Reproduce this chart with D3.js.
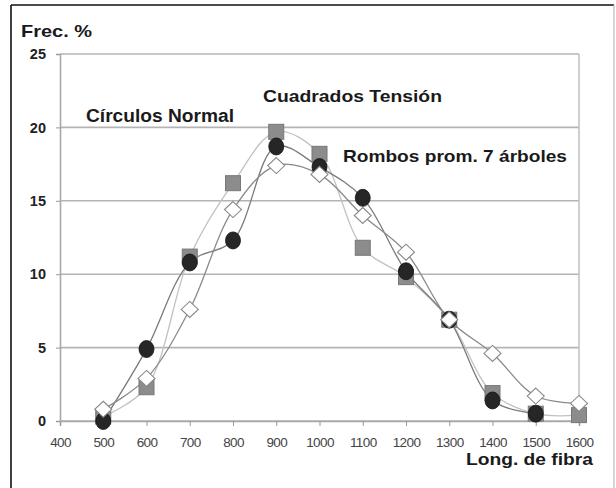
<!DOCTYPE html>
<html><head><meta charset="utf-8">
<script src="https://cdn.jsdelivr.net/npm/d3@7"></script>
<style>body{margin:0;background:#fff}svg{display:block;font-family:"Liberation Sans",Arial,sans-serif}</style>
</head><body><svg id="c" width="616" height="488"></svg>
<script>
const lengths = [500,600,700,800,900,1000,1100,1200,1300,1400,1500,1600];
const normal  = [0,4.9,10.8,12.3,18.7,17.3,15.2,10.2,6.9,1.4,0.5,null];
const tension = [0.3,2.3,11.2,16.2,19.7,18.2,11.8,9.8,6.9,1.9,0.5,0.4];
const prom7   = [0.8,2.9,7.6,14.4,17.4,16.8,14.0,11.5,6.9,4.6,1.7,1.2];
const xTicks = [400,500,600,700,800,900,1000,1100,1200,1300,1400,1500,1600];
const yTicks = [0,5,10,15,20,25];

const svg = d3.select("#c");
svg.append("rect").attr("width",616).attr("height",488).attr("fill","#fff");
// outer frame
svg.append("line").attr("x1",11).attr("x2",11).attr("y1",5).attr("y2",488).attr("stroke","#111").attr("stroke-width",1.6);
svg.append("line").attr("x1",11).attr("x2",614).attr("y1",5).attr("y2",5).attr("stroke","#111").attr("stroke-width",1.6);
svg.append("line").attr("x1",614).attr("x2",614).attr("y1",5).attr("y2",488).attr("stroke","#bbb").attr("stroke-width",1.2);

const x = d3.scaleLinear().domain([400,1600]).range([60,579]);
const y = d3.scaleLinear().domain([0,25]).range([421,54]);

// gridlines
svg.append("g").selectAll("line").data(yTicks).join("line")
  .attr("x1",60).attr("x2",579).attr("y1",d=>y(d)).attr("y2",d=>y(d))
  .attr("stroke","#b4b4b4").attr("stroke-width",1.6);
// plot right border
svg.append("line").attr("x1",579).attr("x2",579).attr("y1",y(25)).attr("y2",y(0)).attr("stroke","#c4c4c4").attr("stroke-width",1.6);

// x axis
const xa = svg.append("g").attr("transform",`translate(0,${y(0)})`)
  .call(d3.axisBottom(x).tickValues(xTicks).tickSize(5).tickPadding(11).tickFormat(d3.format("d")));
xa.select(".domain").attr("stroke","#a8a8a8").attr("stroke-width",1.6);
xa.selectAll(".tick line").attr("stroke","#999");
xa.selectAll("text").attr("font-size",13.5).attr("fill","#444").attr("font-family","Liberation Sans, Arial, sans-serif").attr("letter-spacing","-0.6");

// y axis
const ya = svg.append("g").attr("transform",`translate(60,0)`)
  .call(d3.axisLeft(y).tickValues(yTicks).tickSize(4).tickPadding(10));
ya.select(".domain").attr("stroke","#a8a8a8").attr("stroke-width",1.6);
ya.selectAll(".tick line").attr("stroke","#999");
ya.selectAll("text").attr("font-size",14.5).attr("font-weight","bold").attr("fill","#222").attr("font-family","Liberation Sans, Arial, sans-serif");

const curve = d3.curveCatmullRom.alpha(0.5);
function series(vals){ return lengths.map((l,i)=>({x:l,v:vals[i]})).filter(d=>d.v!==null); }
const line = d3.line().x(d=>x(d.x)).y(d=>y(d.v)).curve(curve);

svg.append("path").datum(series(tension)).attr("d",line).attr("fill","none").attr("stroke","#c2c2c2").attr("stroke-width",1.3);
svg.append("path").datum(series(normal)).attr("d",line).attr("fill","none").attr("stroke","#7a7a7a").attr("stroke-width",1.3);
svg.append("path").datum(series(prom7)).attr("d",line).attr("fill","none").attr("stroke","#8a8a8a").attr("stroke-width",1.3);

// markers
svg.append("g").selectAll("rect").data(series(tension)).join("rect")
  .attr("x",d=>x(d.x)-7.5).attr("y",d=>y(d.v)-7.5).attr("width",15).attr("height",15)
  .attr("fill","#8c8c8c").attr("stroke","#777").attr("stroke-width",1);
svg.append("g").selectAll("ellipse").data(series(normal)).join("ellipse")
  .attr("cx",d=>x(d.x)).attr("cy",d=>y(d.v)).attr("rx",7.5).attr("ry",8.5)
  .attr("fill","#262626").attr("stroke","#111").attr("stroke-width",0.8);
svg.append("g").selectAll("path").data(series(prom7)).join("path")
  .attr("d",d=>{const cx=x(d.x),cy=y(d.v);return `M${cx},${cy-8}L${cx+8.5},${cy}L${cx},${cy+8}L${cx-8.5},${cy}Z`;})
  .attr("fill","#fff").attr("stroke","#888").attr("stroke-width",1.1);

// texts
function label(t,x0,yb,size,w){
  svg.append("text").attr("x",x0).attr("y",yb).attr("font-size",size).attr("font-weight","bold").attr("fill","#1a1a1a")
    .attr("textLength",w).attr("lengthAdjust","spacingAndGlyphs").text(t);
}
label("Frec. %",21,37,17,71);
label("Círculos Normal",86,122,18,148);
label("Cuadrados Tensión",263,102,17,179);
label("Rombos prom. 7 árboles",343,162,17,224);
label("Long. de fibra",466,465,16.5,127);
</script></body></html>
